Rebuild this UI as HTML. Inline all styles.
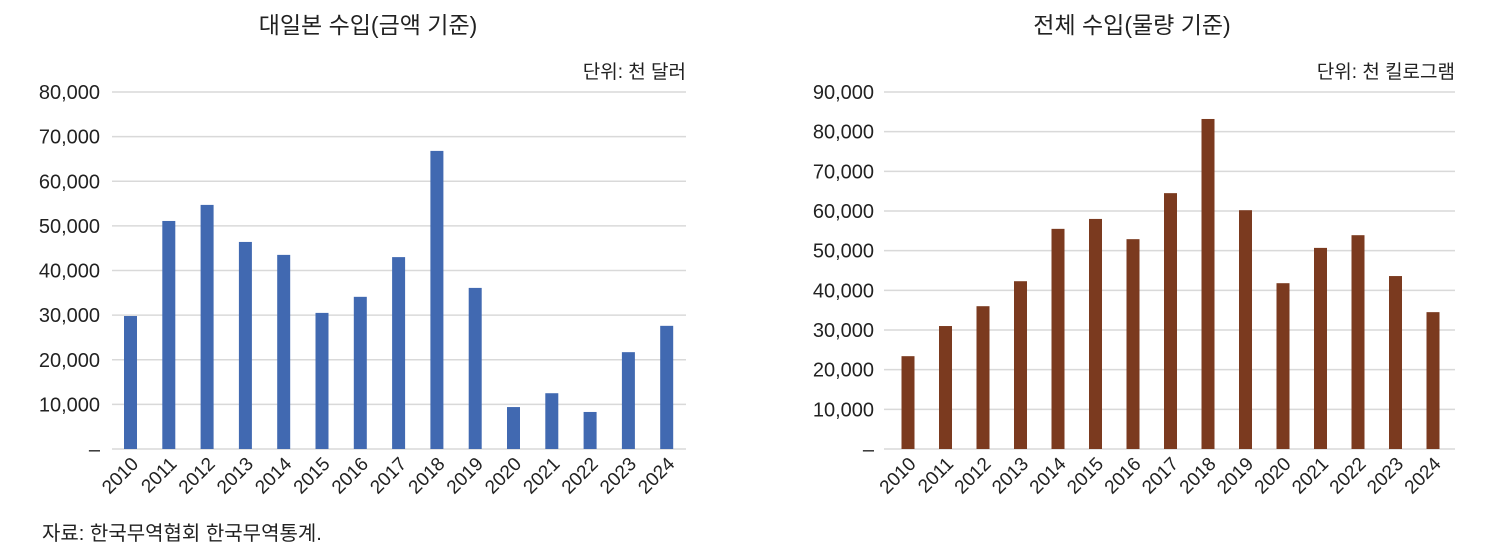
<!DOCTYPE html>
<html><head><meta charset="utf-8"><style>
body{margin:0;background:#fff;width:1500px;height:550px;overflow:hidden;font-family:"Liberation Sans","Noto Sans CJK KR",sans-serif;}
svg text{font-family:"Liberation Sans","Noto Sans CJK KR",sans-serif;fill:#222;}
</style></head><body>
<svg id="c" width="1500" height="550"></svg>
<script>
const years=["2010","2011","2012","2013","2014","2015","2016","2017","2018","2019","2020","2021","2022","2023","2024"];
const valuesJapan=[29800,51100,54700,46400,43500,30500,34100,43000,66800,36100,9400,12500,8300,21700,27600];
const valuesTotal=[23400,31000,36000,42300,55500,58000,52900,64500,83200,60200,41800,50700,53900,43600,34500];
const ticksJapan=[0,10000,20000,30000,40000,50000,60000,70000,80000];
const ticksTotal=[0,10000,20000,30000,40000,50000,60000,70000,80000,90000];
const svg=document.getElementById('c');
const NS='http://www.w3.org/2000/svg';
function mk(t,a,txt){const e=document.createElementNS(NS,t);for(const k in a)e.setAttribute(k,a[k]);if(txt!==undefined)e.textContent=txt;svg.appendChild(e);return e;}
function fmt(v){return v===0?'–':v.toLocaleString('en-US');}
function chart(o){
  const y=v=>o.y0-(v/o.max)*(o.y0-o.yTop);
  const x=i=>o.x0+i*o.step;
  let t=mk('text',{x:o.titleX,y:33,'font-size':23,'text-anchor':'middle'},o.title);
  
  t=mk('text',{x:o.gx1,y:78,'font-size':19,'text-anchor':'end'},o.unit);
  
  o.ticks.forEach(v=>{
    const l=mk('line',{x1:o.gx0,x2:o.gx1,y1:y(v),y2:y(v),stroke:'#d9d9d9','stroke-width':1.5});
    
    const tt=mk('text',{x:o.labX,y:y(v)+7,'font-size':20,'text-anchor':'end'},fmt(v));
    
  });
  o.vals.forEach((v,i)=>{
    const r=mk('rect',{x:x(i)-6.5,y:y(v),width:13,height:o.y0-y(v),fill:o.color});
    
    const tl=mk('text',{x:x(i)+9,y:o.y0+16,'font-size':19,'text-anchor':'end',transform:`rotate(-45 ${x(i)+9} ${o.y0+16})`},years[i]);
    
  });
}
chart({key:'japan',title:'대일본 수입(금액 기준)',titleX:368,unit:'단위: 천 달러',vals:valuesJapan,ticks:ticksJapan,max:80000,y0:449,yTop:92,x0:130.5,step:38.3,gx0:112,gx1:686,labX:100,color:'#4169b1'});
chart({key:'total',title:'전체 수입(물량 기준)',titleX:1132,unit:'단위: 천 킬로그램',vals:valuesTotal,ticks:ticksTotal,max:90000,y0:449,yTop:92,x0:908,step:37.5,gx0:884,gx1:1455,labX:874,color:'#7b3a1f'});
const s=mk('text',{x:42,y:540,'font-size':20},'자료: 한국무역협회 한국무역통계.');

</script>
</body></html>
